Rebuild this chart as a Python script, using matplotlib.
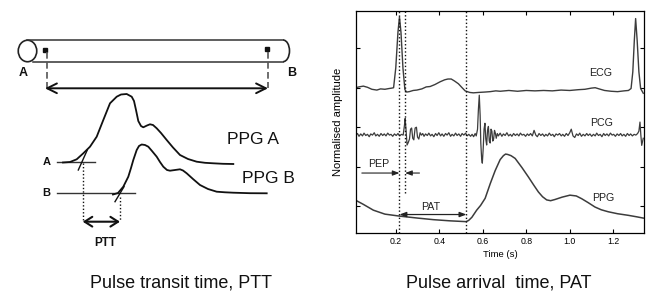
import matplotlib
matplotlib.use("Agg")
import matplotlib.pyplot as plt
from matplotlib.patches import Ellipse, Arc

plt.rcParams['font.family'] = ['Liberation Sans', 'DejaVu Sans']

# ---------------- Right panel data (time in s, normalised amplitude) ----------------
ecg_t = [0.016, 0.030, 0.051, 0.070, 0.090, 0.113, 0.130, 0.150, 0.170, 0.182, 0.190, 0.200,
         0.210, 0.217, 0.224, 0.233, 0.242, 0.250, 0.262, 0.280, 0.297, 0.320, 0.340, 0.358,
         0.380, 0.404, 0.425, 0.440, 0.455, 0.470, 0.488, 0.505, 0.519, 0.540, 0.557, 0.580,
         0.610, 0.634, 0.660, 0.680, 0.720, 0.760, 0.800, 0.840, 0.880, 0.920, 0.960, 1.000,
         1.040, 1.070, 1.100, 1.117, 1.135, 1.160, 1.190, 1.220, 1.250, 1.270, 1.282, 1.290,
         1.297, 1.303, 1.310, 1.318, 1.326, 1.338]
ecg_v = [4.00, 4.02, 4.04, 4.01, 3.96, 3.94, 3.97, 3.96, 3.98, 3.99, 4.00, 4.50,
         5.40, 5.79, 5.40, 4.50, 3.95, 3.89, 3.90, 3.93, 3.94, 3.97, 4.02, 4.03,
         4.08, 4.15, 4.20, 4.22, 4.22, 4.17, 4.10, 4.00, 3.92, 3.88, 3.87, 3.88,
         3.89, 3.90, 3.92, 3.91, 3.93, 3.91, 3.93, 3.92, 3.93, 3.92, 3.94, 3.93,
         3.95, 3.96, 3.99, 4.00, 3.97, 3.93, 3.91, 3.90, 3.92, 3.93, 3.98, 4.40,
         5.20, 5.75, 5.20, 4.40, 3.98, 3.86]

pcg_t = [0.016, 0.024, 0.031, 0.039, 0.047, 0.054, 0.062, 0.070, 0.078, 0.085, 0.093, 0.101,
         0.108, 0.116, 0.124, 0.132, 0.140, 0.147, 0.155, 0.163, 0.171, 0.178, 0.186, 0.194,
         0.202, 0.210, 0.218, 0.226, 0.234, 0.240, 0.243, 0.247, 0.252, 0.258, 0.263, 0.268,
         0.273, 0.278, 0.283, 0.289, 0.295, 0.300, 0.306, 0.312, 0.318, 0.324, 0.330, 0.337,
         0.345, 0.352, 0.360, 0.367, 0.375, 0.383, 0.390, 0.398, 0.406, 0.413, 0.421, 0.429,
         0.436, 0.444, 0.452, 0.459, 0.467, 0.475, 0.482, 0.490, 0.498, 0.505, 0.513, 0.521,
         0.528, 0.536, 0.544, 0.551, 0.558, 0.565, 0.570, 0.576, 0.580, 0.584, 0.588, 0.591,
         0.595, 0.598, 0.602, 0.606, 0.610, 0.614, 0.618, 0.622, 0.626, 0.630, 0.634, 0.638,
         0.642, 0.646, 0.650, 0.654, 0.658, 0.662, 0.667, 0.672, 0.680, 0.688, 0.695, 0.703,
         0.711, 0.719, 0.727, 0.734, 0.742, 0.750, 0.758, 0.766, 0.773, 0.781, 0.789, 0.797,
         0.805, 0.812, 0.820, 0.828, 0.836, 0.844, 0.851, 0.859, 0.867, 0.875, 0.883, 0.890,
         0.898, 0.906, 0.914, 0.922, 0.929, 0.937, 0.945, 0.953, 0.961, 0.968, 0.976, 0.984,
         0.992, 1.000, 1.007, 1.015, 1.023, 1.031, 1.039, 1.046, 1.054, 1.062, 1.070, 1.078,
         1.085, 1.093, 1.101, 1.109, 1.117, 1.124, 1.132, 1.140, 1.148, 1.156, 1.163, 1.171,
         1.179, 1.187, 1.195, 1.202, 1.210, 1.218, 1.226, 1.234, 1.241, 1.249, 1.257, 1.265,
         1.273, 1.280, 1.288, 1.296, 1.304, 1.312, 1.318, 1.323, 1.327, 1.331, 1.338]
pcg_v = [2.80, 2.84, 2.77, 2.83, 2.78, 2.85, 2.79, 2.82, 2.76, 2.83, 2.80, 2.86,
         2.78, 2.82, 2.77, 2.84, 2.79, 2.83, 2.78, 2.85, 2.80, 2.82, 2.77, 2.83,
         2.79, 2.84, 2.78, 2.82, 2.80, 3.05, 3.22, 2.95, 2.55, 2.62, 2.70, 2.95,
         2.98, 2.72, 2.68, 2.98, 3.00, 2.75, 2.70, 2.86, 2.80, 2.84, 2.77, 2.83,
         2.79, 2.85, 2.78, 2.82, 2.76, 2.84, 2.79, 2.86, 2.78, 2.83, 2.77, 2.84,
         2.80, 2.86, 2.77, 2.82, 2.78, 2.85, 2.79, 2.83, 2.77, 2.84, 2.80, 2.85,
         2.78, 2.82, 2.77, 2.82, 2.76, 2.84, 2.78, 2.95, 3.45, 3.81, 3.30, 2.60,
         2.20, 2.09, 2.45, 2.95, 3.10, 2.70, 2.55, 2.92, 3.02, 2.65, 2.60, 2.95,
         2.90, 2.65, 2.70, 2.92, 2.85, 2.72, 2.84, 2.78, 2.85, 2.77, 2.83, 2.79,
         2.86, 2.78, 2.82, 2.77, 2.84, 2.79, 2.83, 2.78, 2.85, 2.80, 2.82, 2.77,
         2.83, 2.79, 2.84, 2.78, 2.92, 2.80, 2.76, 2.84, 2.79, 2.83, 2.77, 2.82,
         2.78, 2.85, 2.79, 2.82, 2.76, 2.83, 2.80, 2.84, 2.78, 2.82, 2.77, 2.84,
         2.79, 2.86, 2.95, 2.78, 2.74, 2.83, 2.79, 2.85, 2.77, 2.82, 2.78, 2.84,
         2.79, 2.83, 2.77, 2.82, 2.78, 2.85, 2.79, 2.82, 2.76, 2.84, 2.79, 2.83,
         2.78, 2.85, 2.80, 2.82, 2.77, 2.83, 2.79, 2.84, 2.78, 2.82, 2.77, 2.84,
         2.79, 2.83, 2.78, 2.82, 2.80, 2.84, 2.90, 3.13, 2.80, 2.54, 2.72]

ppg_t = [0.016, 0.050, 0.097, 0.150, 0.217, 0.300, 0.373, 0.450, 0.523, 0.535, 0.550,
         0.572, 0.590, 0.611, 0.635, 0.657, 0.680, 0.695, 0.705, 0.715, 0.730, 0.749,
         0.780, 0.810, 0.835, 0.856, 0.875, 0.894, 0.912, 0.932, 0.965, 1.001, 1.030,
         1.055, 1.085, 1.116, 1.145, 1.177, 1.220, 1.269, 1.310, 1.338]
ppg_v = [1.15, 1.05, 0.90, 0.80, 0.75, 0.70, 0.66, 0.63, 0.61, 0.64, 0.72,
         0.90, 1.02, 1.20, 1.58, 1.90, 2.18, 2.28, 2.32, 2.31, 2.28, 2.21,
         1.98, 1.74, 1.53, 1.36, 1.24, 1.16, 1.14, 1.17, 1.23, 1.28, 1.26,
         1.19, 1.09, 0.98, 0.91, 0.86, 0.81, 0.77, 0.73, 0.70]

signal_labels = ["ECG", "PCG", "PPG"]
label_t = [1.142, 1.146, 1.152]
label_v = [4.37, 3.11, 1.22]

marker_times = [0.217, 0.243, 0.525]          # vertical dotted lines
marker_bottom = [0.32, 1.33, 0.32]
pep_level, pep_left, pep_right = 1.84, 0.044, 0.309
pat_level = 0.79

x_ticks = [0.2, 0.4, 0.6, 0.8, 1.0, 1.2]
x_ticklabels = ["0.2", "0.4", "0.6", "0.8", "1.0", "1.2"]
y_ticks = [1, 2, 3, 4, 5]

# ---------------- Left panel data (schematic, pixel units) ----------------
ppgA_x = [63, 70, 76.7, 83.3, 90, 96.7, 103.3, 110, 116.7, 121, 126.7, 131.7, 134, 136, 138.3,
          141, 143.3, 147, 150, 153, 156.7, 161, 166.7, 173, 180, 188, 196.7, 205, 213.3, 223, 233.3]
ppgA_y = [162.5, 162, 159.3, 153.3, 146.7, 136.7, 120, 103.3, 96.7, 94.5, 94, 96.7, 101, 110, 121,
          126, 127.3, 125.5, 124.3, 125, 128.3, 133, 140, 147.5, 155, 159, 161.7, 162.8, 163.3, 163.8, 164]
ppgB_x = [113, 118, 123.3, 128.3, 131, 133.3, 136.7, 139, 141.7, 145, 148.3, 152, 156.7, 160,
          163.3, 167, 170, 175, 180, 183, 186.7, 193, 200, 208, 216.7, 225, 233.3, 250, 266.7]
ppgB_y = [194.5, 193, 186.7, 176.7, 168, 160, 150, 146, 144.5, 145, 146.7, 151, 156.7, 162,
          166.7, 170, 170.7, 170, 169.3, 170.5, 173.3, 179, 185, 189, 191.7, 192.3, 192.7, 193.2, 193.3]

# ---------------- Figure ----------------
fig = plt.figure(figsize=(6.48, 2.91), dpi=100)

# Left schematic drawn on an overlay in pixel coordinates
ov = fig.add_axes([0, 0, 1, 1])
ov.set_xlim(0, 648)
ov.set_ylim(291, 0)
ov.axis("off")

k = "#111111"
# tube
ov.plot([27, 283], [40, 40], color="#333333", lw=1.1)
ov.plot([33, 283], [61.7, 61.7], color="#333333", lw=1.1)
ov.add_patch(Ellipse((27.5, 51), 18.5, 21.5, fill=False, ec="#222222", lw=1.2))
ov.add_patch(Arc((283, 50.85), 13, 21.7, theta1=-90, theta2=90, ec="#222222", lw=1.2))
ov.plot([45, 266.7], [50, 49.3], "s", color=k, ms=3, ls="none")
ov.plot([46.7, 46.7], [52, 88], color="#555555", lw=1.2, ls=(0, (4, 2)))
ov.plot([268.3, 268.3], [52, 88], color="#555555", lw=1.2, ls=(0, (4, 2)))
ov.annotate("", xy=(268, 88.3), xytext=(45, 88.3),
            arrowprops=dict(arrowstyle="<->,head_length=0.7,head_width=0.35", lw=1.4, color=k,
                            shrinkA=0, shrinkB=0))
ov.text(22.7, 73.3, "A", fontsize=9, fontweight="bold", ha="center", va="center", color=k)
ov.text(291.7, 73.3, "B", fontsize=9, fontweight="bold", ha="center", va="center", color=k)

# PPG waveforms
ov.plot([56.7, 95], [162.3, 162.3], color="#333333", lw=1.0)
ov.plot([56.7, 135], [193.3, 193.3], color="#333333", lw=1.0)
ov.plot(ppgA_x, ppgA_y, color=k, lw=1.3)
ov.plot(ppgB_x, ppgB_y, color=k, lw=1.3)
ov.plot([78.3, 87.3], [170, 150], color=k, lw=1.0)
ov.plot([115, 124], [201.7, 186.7], color=k, lw=1.0)
ov.text(46.7, 162.3, "A", fontsize=8, fontweight="bold", ha="center", va="center", color=k)
ov.text(46.7, 193.3, "B", fontsize=8, fontweight="bold", ha="center", va="center", color=k)
ov.text(253, 140, "PPG A", fontsize=12.5, ha="center", va="center", color=k)
ov.text(268, 178.3, "PPG B", fontsize=12.5, ha="center", va="center", color=k)
ov.plot([82.7, 82.7], [163, 221], color=k, lw=1.0, ls=(0, (1, 1.5)))
ov.plot([120, 120], [196.7, 221], color=k, lw=1.0, ls=(0, (1, 1.5)))
ov.annotate("", xy=(120, 221.7), xytext=(82.7, 221.7),
            arrowprops=dict(arrowstyle="<->,head_length=0.55,head_width=0.35", lw=1.5, color=k,
                            shrinkA=0, shrinkB=0))
ov.text(105, 242.7, "PTT", fontsize=8.5, fontweight="bold", ha="center", va="center", color=k)

# titles
ov.text(181, 283, "Pulse transit time, PTT", fontsize=13, ha="center", va="center", color=k)
ov.text(499, 283, "Pulse arrival  time, PAT", fontsize=13, ha="center", va="center", color=k)

# Right panel chart
ax = fig.add_axes([0.549, 0.199, 0.445, 0.763])
lc = "#3c3c3c"
ax.plot(ecg_t, ecg_v, color=lc, lw=1.0)
ax.plot(pcg_t, pcg_v, color=lc, lw=0.9)
ax.plot(ppg_t, ppg_v, color=lc, lw=1.1)
for name, tx, vy in zip(signal_labels, label_t, label_v):
    ax.text(tx, vy, name, fontsize=7.7, ha="center", va="center", color="#222222")

for tm, bt in zip(marker_times, marker_bottom):
    ax.plot([tm, tm], [bt, 5.94], color="#111111", lw=1.0, ls=(0, (1, 1.6)))

ax.annotate("", xy=(marker_times[0], pep_level), xytext=(pep_left, pep_level),
            arrowprops=dict(arrowstyle="-|>,head_length=0.4,head_width=0.15", lw=0.8, color="#222222",
                            shrinkA=0, shrinkB=0))
ax.annotate("", xy=(marker_times[1], pep_level), xytext=(pep_right, pep_level),
            arrowprops=dict(arrowstyle="-|>,head_length=0.4,head_width=0.15", lw=0.8, color="#222222",
                            shrinkA=0, shrinkB=0))
ax.annotate("", xy=(marker_times[2], pat_level), xytext=(marker_times[0], pat_level),
            arrowprops=dict(arrowstyle="<|-|>,head_length=0.4,head_width=0.15", lw=0.9, color="#222222",
                            shrinkA=0, shrinkB=0))
ax.text(0.122, 2.08, "PEP", fontsize=7.7, ha="center", va="center", color="#222222")
ax.text(0.361, 0.98, "PAT", fontsize=7.7, ha="center", va="center", color="#222222")

ax.set_xlim(0.016, 1.342)
ax.set_ylim(0.32, 5.94)
ax.set_xticks(x_ticks)
ax.set_xticklabels(x_ticklabels)
ax.set_yticks(y_ticks)
ax.set_yticklabels([])
ax.tick_params(direction="in", length=3, width=0.8, top=True, right=True, labelsize=6.3, pad=3)
for s in ax.spines.values():
    s.set_linewidth(0.9)
ax.set_xlabel("Time (s)", fontsize=6.8, labelpad=3)
ax.set_ylabel("Normalised amplitude", fontsize=8, labelpad=6)

fig.savefig("out.png", dpi=100)
